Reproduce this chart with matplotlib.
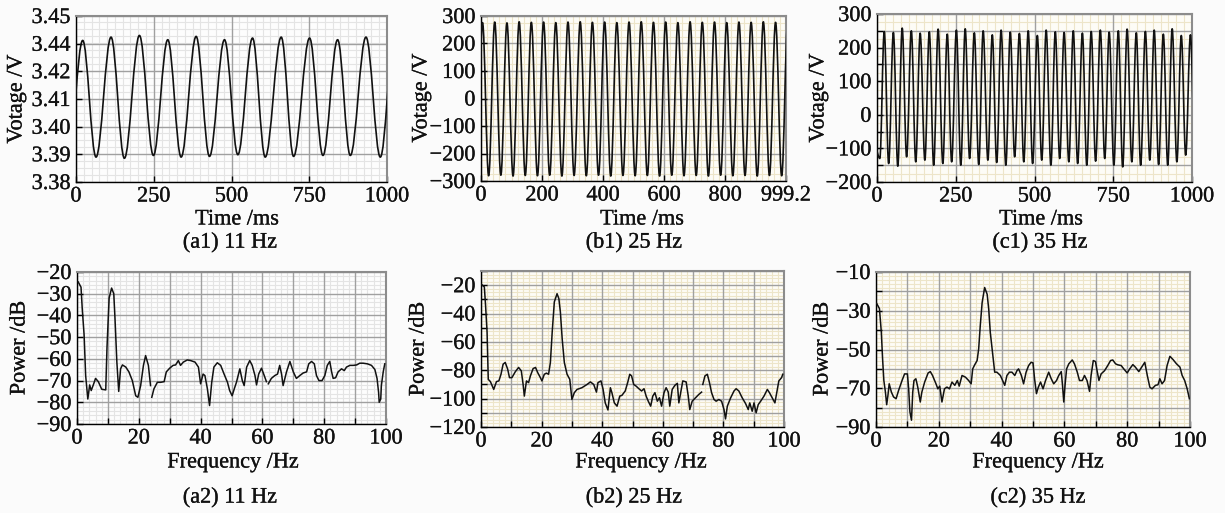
import numpy as np
import matplotlib
matplotlib.use('Agg')
import matplotlib.pyplot as plt
import matplotlib.patheffects as pe
from matplotlib.path import Path
from matplotlib.patches import PathPatch
from matplotlib.ticker import MultipleLocator, AutoMinorLocator, FixedLocator, FixedFormatter, FuncFormatter

plt.rcParams['font.family'] = ['Liberation Serif', 'DejaVu Serif']
plt.rcParams['font.size'] = 16
plt.rcParams['axes.unicode_minus'] = True

# ---------------- data ----------------
# (a1) 11 Hz time trace: extremum times (ms) and values (V)
a1_ext_t = [-25, 21.5, 64.4, 112.7, 155.6, 203.9, 248.9, 295.1, 338.0, 386.3, 429.2, 477.5,
            520.4, 567.6, 608.4, 659.9, 699.6, 751.1, 794.0, 841.2, 882.0, 932.4, 978.5, 1023]
a1_ext_v = [3.3905, 3.4397, 3.3905, 3.4411, 3.3900, 3.4418, 3.3912, 3.4400, 3.3905, 3.4414,
            3.3908, 3.4400, 3.3915, 3.4407, 3.3905, 3.4411, 3.3908, 3.4407, 3.3912, 3.4400,
            3.3912, 3.4411, 3.3905, 3.4400]
a1_yticks = [3.38, 3.3917, 3.4033, 3.415, 3.4267, 3.4383, 3.45]
a1_yticklabels = ['3.38', '3.39', '3.40', '3.41', '3.42', '3.44', '3.45']

# (b1) 25 Hz time trace
b1_ext_t = [-15, 5, 25, 45, 65, 85, 105, 125, 145, 165, 185, 205, 225, 245, 265, 285, 305, 325,
            345, 365, 385, 405, 425, 445, 465, 485, 505, 525, 545, 565, 585, 605, 625, 645,
            665, 685, 705, 725, 745, 765, 785, 805, 825, 845, 865, 885, 905, 925, 945, 965,
            985, 1005]
b1_ext_v = [-280, 276, -281, 278, -279, 275, -282, 279, -280, 277, -281, 278, -279, 276, -282,
            278, -280, 279, -281, 277, -279, 278, -282, 276, -280, 278, -281, 279, -280, 277,
            -282, 278, -279, 276, -281, 279, -280, 277, -282, 278, -279, 276, -281, 278, -280,
            277, -282, 279, -280, 277, -281, 276]
b1_xticks = [0, 200, 400, 600, 800, 999.2]
b1_xticklabels = ['0', '200', '400', '600', '800', '999.2']

# (c1) 35 Hz time trace
c1_ext_t = [-5, 9, 23, 37, 52, 66, 80, 94, 109, 123, 137, 152, 166, 180, 194, 209, 223, 237,
            252, 266, 280, 294, 309, 323, 337, 352, 366, 380, 394, 409, 423, 437, 452, 466,
            480, 494, 509, 523, 537, 552, 566, 580, 594, 609, 623, 637, 652, 666, 680, 694,
            709, 723, 737, 752, 766, 780, 794, 809, 823, 837, 852, 866, 880, 894, 909, 923,
            937, 952, 966, 980, 995, 1009]
c1_ext_v = [-100, -130, 248, -145, 245, -153, 258, -125, 250, -140, 243, -135, 247, -150, 255,
            -145, 240, -140, 252, -150, 256, -130, 244, -148, 250, -135, 238, -142, 252, -150,
            246, -125, 242, -140, 250, -145, 236, -135, 252, -150, 247, -130, 245, -140, 250,
            -145, 243, -150, 248, -138, 252, -130, 246, -150, 250, -155, 255, -140, 244, -150,
            248, -135, 252, -148, 240, -150, 256, -140, 236, -120, 238, -100]

# (a2) spectrum 11 Hz
a2_f = [0.4, 1.3, 1.7, 2.3, 2.8, 3.5, 4.1, 4.6, 5.4, 6.0, 6.9, 8.0, 9.3, 9.7, 10.4, 11.2, 11.9,
        12.3, 12.9, 13.5, 14.1, 14.7, 15.8, 16.8, 17.9, 19.0, 19.7, 20.6, 21.5, 22.2, 23.1, 23.8,
        24.0, 24.2, 24.9, 26.0, 27.1, 28.2, 28.9, 30.0, 31.1, 31.9, 32.8, 33.5, 34.4, 35.7, 36.8,
        38.2, 39.3, 40.0, 40.8, 41.4, 42.2, 42.9, 43.6, 44.3, 45.4, 46.5, 47.6, 48.7, 49.4, 50.2,
        50.9, 51.6, 52.7, 53.5, 54.1, 54.9, 55.9, 56.7, 57.6, 58.1, 58.8, 59.7, 60.6, 61.3, 61.6,
        61.9, 62.9, 64.0, 64.9, 65.6, 66.2, 66.7, 67.8, 68.9, 70.0, 71.0, 72.1, 73.2, 74.3, 75.0,
        75.9, 76.8, 77.5, 78.3, 79.3, 80.2, 81.0, 81.8, 82.4, 82.9, 83.7, 84.5, 85.6, 86.5, 87.2,
        88.3, 89.4, 90.5, 91.5, 92.6, 94.0, 95.3, 96.4, 97.1, 97.6, 97.8, 98.3, 98.5, 99.1, 99.6]
a2_db = [-24.6, -27.0, -37.0, -49.0, -67.7, -78.5, -72.0, -74.6, -71.5, -69.0, -70.5, -74.0, -74.3,
         -55.0, -32.0, -27.4, -30.0, -41.5, -61.5, -75.0, -64.6, -62.8, -63.8, -66.0, -70.0, -77.0,
         -77.7, -72.3, -63.0, -58.5, -63.0, -72.3, np.nan, -77.7, -73.8, -70.8, -70.8, -70.5, -66.0,
         -64.3, -63.0, -62.8, -60.8, -63.0, -61.5, -60.5, -60.8, -61.5, -63.8, -71.5, -67.0, -67.7,
         -73.8, -81.5, -70.8, -63.8, -61.8, -63.0, -67.0, -70.8, -74.6, -77.0, -73.8, -70.8, -64.6,
         -70.0, -72.3, -63.8, -60.8, -63.0, -67.7, -72.0, -67.0, -64.3, -67.7, -70.5, np.nan, -71.5,
         -69.0, -67.7, -67.0, -63.0, -67.0, -72.3, -66.0, -61.2, -66.0, -69.0, -67.7, -66.5, -66.0,
         -62.3, -61.2, -62.3, -67.7, -70.0, -70.0, -67.7, -63.0, -61.2, -66.0, -69.0, -68.7, -66.0,
         -64.6, -65.4, -63.8, -63.0, -63.0, -62.8, -62.0, -62.0, -62.3, -63.0, -64.9, -69.0, -75.4,
         -80.0, -78.5, -72.3, -66.0, -62.3]

# (b2) spectrum 25 Hz
b2_f = [0.2, 1.1, 1.5, 2.0, 2.4, 3.1, 4.2, 5.1, 5.9, 6.6, 7.3, 8.0, 8.8, 9.4, 10.2, 11.3, 12.4,
        13.3, 13.9, 14.3, 15.0, 15.7, 16.3, 17.2, 18.0, 18.7, 19.6, 20.1, 20.9, 21.6, 22.3, 22.9,
        23.5, 24.2, 25.1, 25.7, 26.2, 26.8, 27.5, 28.4, 29.3, 30.0, 30.8, 31.7, 33.3, 35.0, 36.1,
        37.2, 38.1, 38.6, 39.6, 40.3, 41.0, 41.9, 42.7, 43.2, 44.0, 44.9, 45.8, 46.5, 47.6, 48.4,
        49.1, 49.7, 50.4, 51.2, 52.1, 53.0, 53.8, 54.5, 55.2, 56.0, 56.7, 57.4, 58.2, 58.9, 59.6,
        60.4, 61.1, 61.8, 62.3, 63.1, 64.0, 64.8, 65.3, 65.9, 66.6, 67.7, 68.4, 68.9, 69.7, 70.8,
        71.9, 72.8, 73.0, 73.2, 73.9, 74.7, 75.4, 76.1, 76.9, 77.6, 78.5, 79.4, 80.2, 80.7, 81.3,
        82.4, 83.5, 84.2, 85.1, 86.2, 87.3, 88.2, 88.7, 89.5, 90.1, 90.8, 91.5, 92.3, 93.4, 94.5,
        95.2, 96.1, 97.0, 97.5, 98.3, 99.2, 99.6]
b2_db = [-19.5, -21.2, -34.0, -53.0, -86.4, -88.0, -93.5, -88.0, -87.5, -82.8, -75.7, -74.5, -79.2,
         -85.2, -85.2, -81.1, -78.0, -80.4, -90.0, -98.2, -87.5, -88.7, -84.0, -78.8, -78.0, -81.6,
         -85.2, -87.5, -82.8, -82.0, -82.8, -74.5, -53.0, -31.8, -26.0, -29.5, -39.0, -58.0, -74.5,
         -82.8, -86.4, -100.6, -95.8, -93.5, -92.3, -90.0, -88.2, -90.0, -95.4, -88.7, -87.5, -93.5,
         -103.0, -108.0, -92.3, -95.8, -103.0, -105.3, -98.2, -97.7, -94.6, -88.7, -82.8, -84.0,
         -90.0, -91.2, -93.0, -94.6, -93.0, -98.2, -101.8, -105.3, -98.2, -95.8, -101.8, -99.4,
         -105.3, -95.8, -92.3, -95.4, -105.3, -93.5, -90.6, -89.2, -103.0, -95.8, -87.5, -88.2,
         -98.2, -107.7, -101.8, -99.4, -97.0, -95.4, np.nan, -90.0, -84.0, -82.8, -88.7, -95.8,
         -100.6, -101.8, -100.6, -101.8, -107.7, -114.3, -105.3, -99.4, -94.6, -93.0, -94.6, -99.4,
         -103.4, -107.7, -103.0, -108.9, -103.0, -110.0, -104.2, -101.8, -98.2, -93.5, -95.8, -99.4,
         -103.0, -97.0, -87.5, -85.2, -82.8]

# (c2) spectrum 35 Hz
c2_f = [0.2, 1.1, 1.7, 2.1, 2.5, 3.0, 3.4, 3.8, 4.2, 4.9, 5.6, 6.4, 7.2, 8.3, 9.1, 10.0, 10.4, 10.8,
        11.3, 11.7, 12.1, 12.7, 13.3, 14.1, 14.6, 15.5, 16.6, 17.3, 18.0, 19.1, 19.7, 20.3, 21.0,
        21.8, 22.6, 23.4, 24.2, 25.1, 25.9, 26.5, 27.4, 28.5, 29.5, 30.3, 30.8, 31.4, 32.2, 32.7,
        33.2, 33.8, 34.6, 35.4, 35.9, 36.4, 37.2, 37.8, 38.5, 39.6, 40.3, 41.0, 41.7, 42.5, 43.3,
        44.2, 44.9, 45.4, 46.3, 47.0, 47.8, 48.6, 49.4, 50.0, 50.5, 51.1, 51.7, 52.4, 53.2, 54.0,
        55.0, 55.8, 56.6, 57.5, 58.2, 59.0, 59.4, 59.8, 60.2, 60.7, 61.4, 62.5, 63.2, 64.1, 64.8,
        65.7, 66.4, 67.2, 68.0, 68.5, 69.2, 69.9, 70.4, 71.0, 71.7, 72.8, 73.8, 74.7, 75.4, 76.3,
        77.0, 78.1, 78.9, 80.0, 80.8, 81.8, 82.6, 83.7, 84.6, 85.6, 86.4, 87.2, 87.9, 89.0, 89.8,
        90.4, 91.1, 91.9, 92.7, 93.6, 94.6, 95.7, 96.8, 97.5, 98.3, 99.1, 99.8]
c2_db = [-26.2, -28.9, -41.2, -54.9, -66.0, -72.0, -78.5, -73.7, -67.7, -72.0, -74.5, -75.4, -71.1,
         -66.0, -62.6, -62.6, -70.3, -82.2, -86.5, -72.0, -66.0, -65.1, -69.4, -77.1, -72.0, -66.8,
         -62.1, -61.4, -63.4, -67.7, -70.3, -68.9, -77.1, -70.3, -69.4, -70.3, -66.8, -68.5, -66.0,
         -68.9, -63.4, -64.3, -66.0, -67.7, -60.0, -58.0, -55.7, -49.7, -37.8, -25.8, -18.0, -21.5,
         -29.2, -41.2, -53.2, -61.7, -61.7, -63.4, -66.0, -68.5, -63.4, -61.7, -61.7, -63.4, -60.9,
         -60.0, -63.4, -67.7, -61.7, -58.3, -56.6, -56.9, -65.1, -72.8, -69.4, -66.8, -70.3, -66.0,
         -61.7, -65.1, -67.7, -66.0, -63.4, -61.4, -68.5, -77.1, -68.5, -60.0, -57.4, -55.4, -57.4,
         -61.7, -66.0, -66.0, -63.4, -66.0, -71.6, -63.4, -55.7, -56.2, -60.9, -66.0, -62.6, -60.9,
         -58.3, -55.7, -55.4, -57.4, -57.9, -58.3, -60.0, -62.1, -60.0, -57.8, -59.1, -61.4, -59.1,
         -56.6, -63.4, -69.4, -70.3, -68.5, -68.2, -65.1, -67.7, -66.0, -58.3, -53.5, -55.2, -57.4,
         -59.1, -63.4, -66.0, -70.3, -75.4]

# ---------------- layout / style ----------------
W, H = 1225, 513
fig = plt.figure(figsize=(W / 100, H / 100), dpi=100, facecolor='#fbfbfb')
TXT_FX = [pe.withStroke(linewidth=0.2, foreground='#111111')]


def rect(l, t, r, b):
    return [l / W, 1 - b / H, (r - l) / W, (b - t) / H]


def fmt_every(step, offset=0):
    def f(v, p):
        k = (v - offset) / step
        if abs(k - round(k)) < 1e-6:
            return f'{int(round(v))}'.replace('-', '\u2212')
        return ''
    return FuncFormatter(f)


def make_axes(box, face, minor_col, xlim, ylim, xmajor, ymajor, xminor, yminor):
    """Background axes holds the fine grid; the front axes holds the major grid and data."""
    bg = fig.add_axes(rect(*box), zorder=0)
    bg.set_facecolor(face)
    bg.set_xlim(*xlim)
    bg.set_ylim(*ylim)
    bg.xaxis.set_minor_locator(xminor)
    bg.yaxis.set_minor_locator(yminor)
    bg.xaxis.set_major_locator(xmajor)
    bg.yaxis.set_major_locator(ymajor)
    bg.grid(which='minor', color=minor_col, lw=0.8)
    bg.tick_params(which='both', length=0, labelbottom=False, labelleft=False)
    for s in bg.spines.values():
        s.set_visible(False)

    ax = fig.add_axes(rect(*box), zorder=1)
    ax.patch.set_alpha(0)
    ax.set_xlim(*xlim)
    ax.set_ylim(*ylim)
    ax.xaxis.set_major_locator(xmajor)
    ax.yaxis.set_major_locator(ymajor)
    ax.set_axisbelow(True)
    ax.grid(which='major', color='#a0a0a0', lw=1.0)
    ax.tick_params(which='major', direction='in', length=4, width=1, color='black',
                   labelsize=16, pad=4, labelcolor='#111111')
    ax.tick_params(which='minor', length=0)
    ax.spines['left'].set_color('black')
    ax.spines['bottom'].set_color('black')
    ax.spines['left'].set_linewidth(1.0)
    ax.spines['bottom'].set_linewidth(1.0)
    for s in ('top', 'right'):
        ax.spines[s].set_color('#8c8c8c')
        ax.spines[s].set_linewidth(1.5)
    return ax


def finish_labels(ax):
    for lab in ax.get_xticklabels() + ax.get_yticklabels():
        lab.set_path_effects(TXT_FX)


def wave(ax, t, v):
    verts = [(t[0], v[0])]
    codes = [Path.MOVETO]
    for i in range(len(t) - 1):
        d = 0.3634 * (t[i + 1] - t[i])
        verts += [(t[i] + d, v[i]), (t[i + 1] - d, v[i + 1]), (t[i + 1], v[i + 1])]
        codes += [Path.CURVE4] * 3
    ax.add_patch(PathPatch(Path(verts, codes), fill=False, edgecolor='#111111', lw=1.2,
                           joinstyle='round', zorder=3))


def fig_text(x, y, s, **kw):
    fig.text(x / W, 1 - y / H, s, ha='center', va='center', fontsize=16, color='#111111',
             path_effects=TXT_FX, **kw)


GRAY_MIN = '#e4e4e4'
CREAM_MIN = '#ede5c9'

# (a1)
ax = make_axes((76, 16, 387, 182), '#fdfdfd', GRAY_MIN, (0, 1000), (3.38, 3.45),
               MultipleLocator(250), FixedLocator(a1_yticks),
               AutoMinorLocator(10), AutoMinorLocator(4))
wave(ax, a1_ext_t, a1_ext_v)
ax.yaxis.set_major_formatter(FixedFormatter(a1_yticklabels))
finish_labels(ax)

# (b1)
ax = make_axes((481, 16, 786, 181), '#fdfcf6', CREAM_MIN, (0, 999.2), (-300, 300),
               FixedLocator(b1_xticks), MultipleLocator(100),
               AutoMinorLocator(10), AutoMinorLocator(4))
wave(ax, b1_ext_t, b1_ext_v)
ax.xaxis.set_major_formatter(FixedFormatter(b1_xticklabels))
ax.yaxis.set_major_formatter(fmt_every(100))
finish_labels(ax)

# (c1)
ax = make_axes((877, 14, 1192, 182), '#fdfcf6', CREAM_MIN, (0, 1000), (-200, 300),
               MultipleLocator(250), MultipleLocator(50),
               AutoMinorLocator(10), AutoMinorLocator(2))
wave(ax, c1_ext_t, c1_ext_v)
ax.yaxis.set_major_formatter(fmt_every(100))
finish_labels(ax)

# (a2)
ax = make_axes((77, 272, 386, 424), '#fdfdfd', GRAY_MIN, (0, 100), (-90, -20),
               MultipleLocator(10), MultipleLocator(10),
               AutoMinorLocator(5), AutoMinorLocator(5))
ax.plot(a2_f, a2_db, color='#111111', lw=1.1, zorder=3)
ax.xaxis.set_major_formatter(fmt_every(20))
ax.yaxis.set_major_formatter(fmt_every(10))
finish_labels(ax)

# (b2)
ax = make_axes((481, 271, 784, 427), '#fdfcf6', CREAM_MIN, (0, 100), (-120, -10),
               MultipleLocator(10), MultipleLocator(10),
               AutoMinorLocator(5), AutoMinorLocator(4))
ax.plot(b2_f, b2_db, color='#111111', lw=1.1, zorder=3)
ax.xaxis.set_major_formatter(fmt_every(20))
ax.yaxis.set_major_formatter(fmt_every(20))
finish_labels(ax)

# (c2)
ax = make_axes((876, 272, 1190, 427), '#fdfcf6', CREAM_MIN, (0, 100), (-90, -10),
               MultipleLocator(10), MultipleLocator(10),
               AutoMinorLocator(5), AutoMinorLocator(5))
ax.plot(c2_f, c2_db, color='#111111', lw=1.1, zorder=3)
ax.xaxis.set_major_formatter(fmt_every(20))
ax.yaxis.set_major_formatter(fmt_every(20, offset=10))
finish_labels(ax)

# axis labels and captions
fig_text(17, 99, 'Votage /V', rotation=90)
fig_text(422, 98, 'Votage /V', rotation=90)
fig_text(819, 98, 'Votage /V', rotation=90)
fig_text(20, 348, 'Power /dB', rotation=90)
fig_text(419, 349, 'Power /dB', rotation=90)
fig_text(823, 349, 'Power /dB', rotation=90)

fig_text(237, 220, 'Time /ms')
fig_text(642, 220, 'Time /ms')
fig_text(1041, 220, 'Time /ms')
fig_text(233, 463, 'Frequency /Hz')
fig_text(641, 463, 'Frequency /Hz')
fig_text(1038, 463, 'Frequency /Hz')

fig_text(230, 243, '(a1) 11 Hz')
fig_text(634, 243, '(b1) 25 Hz')
fig_text(1040, 243, '(c1) 35 Hz')
fig_text(230, 498, '(a2) 11 Hz')
fig_text(634, 498, '(b2) 25 Hz')
fig_text(1038, 498, '(c2) 35 Hz')

fig.savefig('out.png', dpi=100, facecolor=fig.get_facecolor())
